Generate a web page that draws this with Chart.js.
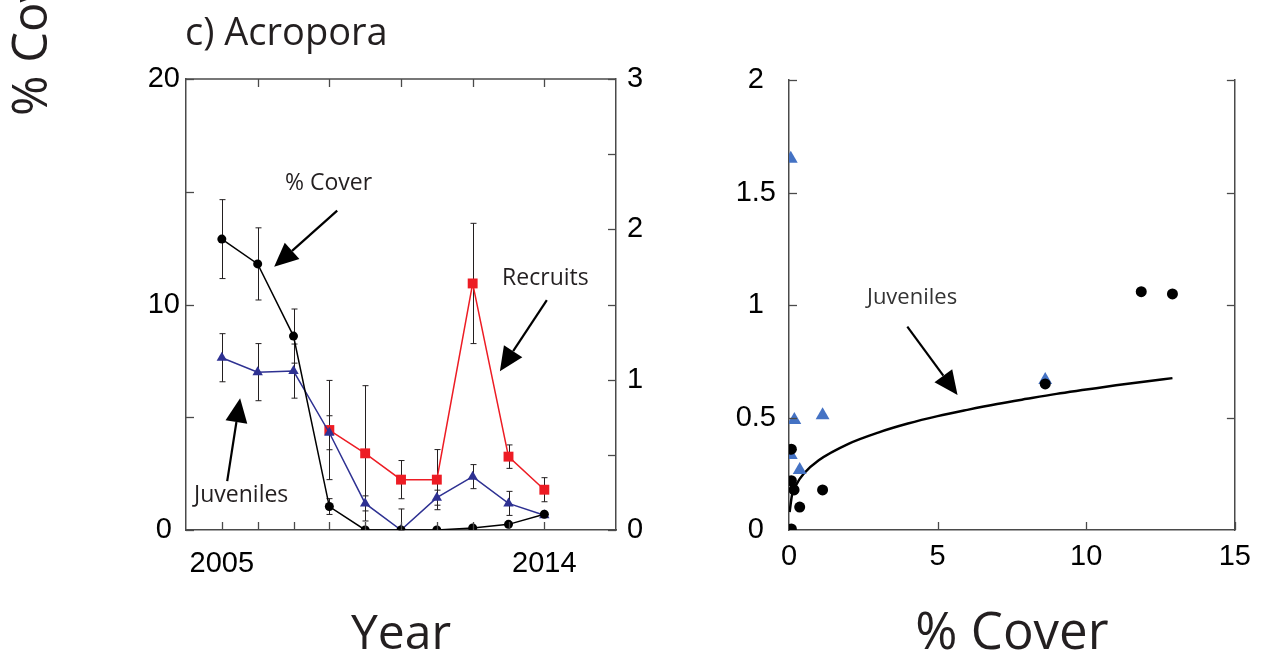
<!DOCTYPE html>
<html>
<head>
<meta charset="utf-8">
<script src="https://cdn.jsdelivr.net/npm/chart.js@4.4.1/dist/chart.umd.min.js"></script>
<style>
  html, body { margin: 0; padding: 0; background: #fff; width: 1261px; height: 656px; overflow: hidden; position: relative; }
  canvas { position: absolute; top: 0; }
  #trend { left: 0; }
  #scatter { left: 660px; }
  .lbl { position: absolute; font-family: "Open Sans", sans-serif; color: #231f20; white-space: nowrap; }
  #title { left: 185px; top: 11px; font-size: 38px; line-height: 38px; }
  #ytitle { left: 4px; top: 116px; font-size: 49px; line-height: 49px; transform-origin: 0 0; transform: rotate(-90deg); }
</style>
</head>
<body>
<canvas id="trend" width="660" height="656"></canvas>
<canvas id="scatter" width="601" height="656"></canvas>
<div class="lbl" id="title">c) Acropora</div>
<div class="lbl" id="ytitle">% Cover</div>
<script>
// left panel: time series
const years = [2005, 2006, 2007, 2008, 2009, 2010, 2011, 2012, 2013, 2014];
const coverVals = [12.9, 11.8, 8.6, 1.04, 0, 0, 0, 0.09, 0.25, 0.7];
const coverErr = [1.75, 1.6, 1.2, 0.35, 0, 0, 0, 0, 0, 0];
const juvVals = [1.146, 1.05, 1.057, 0.647, 0.177, 0, 0.215, 0.355, 0.177, 0.098];
const juvErr = [0.16, 0.19, 0.18, 0.113, 0.05, 0.14, 0.05, 0.08, 0.08, 0];
const recruitYears = [2008, 2009, 2010, 2011, 2012, 2013, 2014];
const recruitVals = [0.665, 0.51, 0.335, 0.335, 1.64, 0.488, 0.268];
const recruitErr = [0.33, 0.45, 0.127, 0.2, 0.4, 0.078, 0.08];

const yearTicksBottom = [2005, 2006, 2007, 2008, 2009, 2010, 2011, 2012, 2013, 2014];
const yearTicksTop = [2006, 2008, 2010, 2012, 2014];
const yearLabels = [2005, 2014];
const coverTicks = [0, 5, 10, 15, 20];
const densityTicks = [0, 0.5, 1, 1.5, 2, 2.5, 3];

// right panel: density vs cover
const recruitCover = [0.06, 0.18, 1.13, 0.06, 0.36, 8.62];
const recruitDensity = [1.65, 0.489, 0.51, 0.333, 0.267, 0.667];
const juvCover = [11.85, 12.9, 8.62, 0.08, 0.08, 0.17, 1.13, 0.36, 0.08];
const juvDensity = [1.059, 1.049, 0.649, 0.359, 0.219, 0.178, 0.178, 0.102, 0.005];
const fitX = [0.02, 0.1, 0.25, 0.5, 1, 2, 3, 4, 5, 6, 7, 8, 9, 10, 11, 12, 12.9];
const fitY = [0.08, 0.154, 0.203, 0.251, 0.31, 0.383, 0.433, 0.473, 0.506, 0.534, 0.56, 0.583, 0.605, 0.624, 0.643, 0.66, 0.675];
const scatterXTicks = [5, 10, 15];
const scatterYTicks = [0.5, 1, 1.5, 2];

const AXIS = '#4a4a4a';
const tickFont = { family: 'Liberation Sans, Arial, sans-serif', size: 29 };

function pairs(xs, ys) {
  return xs.map((x, i) => ({ x: x, y: ys[i] }));
}

// error bars, drawn under the lines
const errorBars = {
  id: 'errorBars',
  beforeDatasetsDraw(chart) {
    const ctx = chart.ctx;
    ctx.save();
    ctx.strokeStyle = '#231f20';
    ctx.lineWidth = 1;
    chart.data.datasets.forEach((ds, i) => {
      if (!ds.errors) return;
      const meta = chart.getDatasetMeta(i);
      const ys = chart.scales[meta.yAxisID];
      meta.data.forEach((pt, j) => {
        const e = ds.errors[j];
        if (!e) return;
        const v = ds.data[j].y;
        const top = ys.getPixelForValue(v + e);
        const bot = ys.getPixelForValue(Math.max(0, v - e));
        const x = Math.round(pt.x) + 0.5;
        ctx.beginPath();
        ctx.moveTo(x, top); ctx.lineTo(x, bot);
        ctx.moveTo(x - 3, top); ctx.lineTo(x + 3, top);
        ctx.moveTo(x - 3, bot); ctx.lineTo(x + 3, bot);
        ctx.stroke();
      });
    });
    ctx.restore();
  }
};

// inward tick marks and optional top frame line
const tickMarks = {
  id: 'tickMarks',
  afterDraw(chart, args, opts) {
    const ctx = chart.ctx;
    const a = chart.chartArea;
    const len = opts.len || 8;
    ctx.save();
    ctx.strokeStyle = AXIS;
    ctx.lineWidth = 1.3;
    if (opts.frameTop) {
      ctx.beginPath();
      ctx.moveTo(a.left, a.top); ctx.lineTo(a.right, a.top);
      ctx.stroke();
    }
    (opts.marks || []).forEach(m => {
      const s = chart.scales[m.scale];
      m.values.forEach(v => {
        const p = Math.round(s.getPixelForValue(v)) + 0.5;
        ctx.beginPath();
        if (m.side === 'bottom') { ctx.moveTo(p, a.bottom); ctx.lineTo(p, a.bottom - len); }
        if (m.side === 'top') { ctx.moveTo(p, a.top); ctx.lineTo(p, a.top + len); }
        if (m.side === 'left') { ctx.moveTo(a.left, p); ctx.lineTo(a.left + len, p); }
        if (m.side === 'right') { ctx.moveTo(a.right, p); ctx.lineTo(a.right - len, p); }
        ctx.stroke();
      });
    });
    ctx.restore();
  }
};

// text notes with arrows, positioned in data units
const notes = {
  id: 'notes',
  afterDraw(chart, args, opts) {
    const ctx = chart.ctx;
    const xs = chart.scales[opts.xAxis || 'x'];
    const ys = chart.scales[opts.yAxis || 'y'];
    ctx.save();
    ctx.fillStyle = opts.color || '#231f20';
    ctx.strokeStyle = '#000';
    ctx.font = opts.font;
    ctx.textAlign = 'center';
    ctx.textBaseline = 'middle';
    (opts.texts || []).forEach(t => {
      ctx.fillText(t.text, xs.getPixelForValue(t.x), ys.getPixelForValue(t.y));
    });
    ctx.fillStyle = '#000';
    (opts.arrows || []).forEach(r => {
      const x1 = xs.getPixelForValue(r.x1), y1 = ys.getPixelForValue(r.y1);
      const x2 = xs.getPixelForValue(r.x2), y2 = ys.getPixelForValue(r.y2);
      const ang = Math.atan2(y2 - y1, x2 - x1);
      const hl = 24, hw = 11;
      const bx = x2 - hl * Math.cos(ang), by = y2 - hl * Math.sin(ang);
      ctx.lineWidth = 2.2;
      ctx.beginPath();
      ctx.moveTo(x1, y1); ctx.lineTo(bx, by);
      ctx.stroke();
      ctx.beginPath();
      ctx.moveTo(x2, y2);
      ctx.lineTo(bx + hw * Math.sin(ang), by - hw * Math.cos(ang));
      ctx.lineTo(bx - hw * Math.sin(ang), by + hw * Math.cos(ang));
      ctx.closePath();
      ctx.fill();
    });
    ctx.restore();
  }
};

new Chart(document.getElementById('trend'), {
  type: 'line',
  plugins: [errorBars, tickMarks, notes],
  data: {
    datasets: [
      {
        label: '% Cover', data: pairs(years, coverVals), errors: coverErr, yAxisID: 'y',
        borderColor: '#000', backgroundColor: '#000', borderWidth: 1.5,
        pointStyle: 'circle', pointRadius: 4.5, pointBorderWidth: 0, tension: 0
      },
      {
        label: 'Juveniles', data: pairs(years, juvVals), errors: juvErr, yAxisID: 'y1',
        borderColor: '#2e3192', backgroundColor: '#2e3192', borderWidth: 1.5,
        pointStyle: 'triangle', pointRadius: 6, pointBorderWidth: 0, tension: 0
      },
      {
        label: 'Recruits', data: pairs(recruitYears, recruitVals), errors: recruitErr, yAxisID: 'y1',
        borderColor: '#ed1c24', backgroundColor: '#ed1c24', borderWidth: 1.5,
        pointStyle: 'rect', pointRadius: 7, pointBorderWidth: 0, tension: 0
      }
    ]
  },
  options: {
    responsive: false,
    animation: false,
    layout: { padding: { top: 79, left: 0, right: 0, bottom: 0 } },
    plugins: {
      legend: { display: false },
      tooltip: { enabled: false },
      tickMarks: {
        len: 8, frameTop: true,
        marks: [
          { scale: 'x', side: 'bottom', values: yearTicksBottom },
          { scale: 'x', side: 'top', values: yearTicksTop },
          { scale: 'y', side: 'left', values: coverTicks },
          { scale: 'y1', side: 'right', values: densityTicks }
        ]
      },
      notes: {
        xAxis: 'x', yAxis: 'y',
        font: '23px "Open Sans"',
        texts: [
          { text: '% Cover', x: 2007.98, y: 15.36 },
          { text: 'Recruits', x: 2014.03, y: 11.15 },
          { text: 'Juveniles', x: 2005.54, y: 1.55 }
        ],
        arrows: [
          { x1: 2008.22, y1: 14.16, x2: 2006.46, y2: 11.67 },
          { x1: 2014.07, y1: 10.19, x2: 2012.76, y2: 7.04 },
          { x1: 2005.15, y1: 2.17, x2: 2005.51, y2: 5.84 }
        ]
      }
    },
    scales: {
      x: {
        type: 'linear', min: 2004, max: 2016,
        afterFit: s => { s.height = 126; },
        afterBuildTicks: s => { s.ticks = yearLabels.map(v => ({ value: v })); },
        grid: { display: false, drawTicks: false },
        border: { display: true, color: AXIS, width: 1.5 },
        ticks: { color: '#000', font: tickFont, padding: 17, autoSkip: false, maxRotation: 0, callback: v => String(v) },
        title: { display: true, text: 'Year', color: '#231f20', font: { family: 'Open Sans', size: 48 }, padding: { top: 0, bottom: -8 } }
      },
      y: {
        position: 'left', min: 0, max: 20,
        afterFit: s => { s.width = 186; },
        afterBuildTicks: s => { s.ticks = coverTicks.map(v => ({ value: v })); },
        grid: { display: false, drawTicks: false },
        border: { display: true, color: AXIS, width: 1.5 },
        ticks: { color: '#000', font: tickFont, padding: 6, crossAlign: 'center', autoSkip: false, callback: v => (v % 10 === 0 ? String(v) : '') }
      },
      y1: {
        position: 'right', min: 0, max: 3,
        afterFit: s => { s.width = 44; },
        afterBuildTicks: s => { s.ticks = densityTicks.map(v => ({ value: v })); },
        grid: { display: false, drawTicks: false },
        border: { display: true, color: AXIS, width: 1.5 },
        ticks: { color: '#000', font: tickFont, padding: 11, autoSkip: false, callback: v => (Number.isInteger(v) ? String(v) : '') }
      }
    }
  }
});

new Chart(document.getElementById('scatter'), {
  type: 'scatter',
  plugins: [tickMarks, notes],
  data: {
    datasets: [
      {
        label: 'Juveniles', data: pairs(juvCover, juvDensity),
        backgroundColor: '#000', borderWidth: 0, pointStyle: 'circle', pointRadius: 5.5
      },
      {
        label: 'Recruits', data: pairs(recruitCover, recruitDensity),
        backgroundColor: '#4472c4', borderWidth: 0, pointStyle: 'triangle', pointRadius: 8
      },
      {
        type: 'line', label: 'Fit', data: pairs(fitX, fitY),
        borderColor: '#000', borderWidth: 2.5, pointRadius: 0, tension: 0.4, cubicInterpolationMode: 'monotone', fill: false
      }
    ]
  },
  options: {
    responsive: false,
    animation: false,
    layout: { padding: { top: 80, left: 0, right: 0, bottom: 0 } },
    plugins: {
      legend: { display: false },
      tooltip: { enabled: false },
      tickMarks: {
        len: 8, frameTop: false,
        marks: [
          { scale: 'x', side: 'bottom', values: scatterXTicks },
          { scale: 'y', side: 'left', values: scatterYTicks },
          { scale: 'y2', side: 'right', values: scatterYTicks }
        ]
      },
      notes: {
        xAxis: 'x', yAxis: 'y',
        color: '#333',
        font: '22px "Open Sans"',
        texts: [{ text: 'Juveniles', x: 4.14, y: 1.033 }],
        arrows: [{ x1: 3.98, y1: 0.904, x2: 5.67, y2: 0.6 }]
      }
    },
    scales: {
      x: {
        type: 'linear', min: 0, max: 15,
        afterFit: s => { s.height = 126; },
        ticks: { stepSize: 5, color: '#000', font: tickFont, padding: 10 },
        grid: { display: false, drawTicks: false },
        border: { display: true, color: AXIS, width: 1.5 },
        title: { display: true, text: '% Cover', color: '#231f20', font: { family: 'Open Sans', size: 51 }, padding: { top: 0, bottom: -9 } }
      },
      y: {
        position: 'left', min: 0, max: 2,
        afterFit: s => { s.width = 129; },
        ticks: { stepSize: 0.5, color: '#000', font: tickFont, padding: 13, crossAlign: 'center', callback: v => String(v) },
        grid: { display: false, drawTicks: false },
        border: { display: true, color: AXIS, width: 1.5 }
      },
      y2: {
        position: 'right', min: 0, max: 2,
        afterFit: s => { s.width = 19; },
        ticks: { display: false },
        grid: { display: false, drawTicks: false },
        border: { display: true, color: AXIS, width: 1.5 }
      }
    }
  }
});
</script>
</body>
</html>
